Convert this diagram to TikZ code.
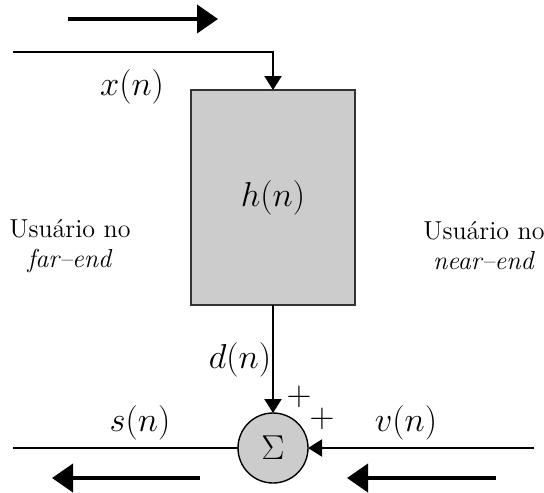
\documentclass[tikz,border=0pt]{standalone}
\usetikzlibrary{arrows.meta}
\begin{document}
\begin{tikzpicture}[x=0.5pt,y=-0.5pt,
  conn/.style={line width=1pt,-{Triangle[width=8.5pt,length=7pt]}},
  flow/.style={line width=2pt,-{Triangle[width=14pt,length=10.5pt]}},
  lbl/.style={font=\fontsize{16.5}{19}\selectfont, inner sep=0pt},
  txt/.style={font=\fontsize{13}{15}\selectfont, align=center, inner sep=0pt},
  plus/.style={font=\fontsize{17}{19}\selectfont, inner sep=0pt},
  blockbox/.style={draw=black!80, line width=0.8pt, fill=gray!40, minimum width=82pt, minimum height=107.5pt, inner sep=0pt, outer sep=0pt},
  sumnode/.style={circle, draw, line width=0.7pt, fill=gray!40, minimum size=35pt, inner sep=0pt, outer sep=0pt, font=\fontsize{17}{19}\selectfont}
  ]
\useasboundingbox (0,0) rectangle (544,492);
% block
\node[blockbox] (h) at (273,197.5) {};
\node[lbl] (hl) at (h.center) {$h(n)$};
% summer
\node[sumnode] (sum) at (273,448) {$\Sigma$};
% coordinates
\coordinate (xin) at (13,52);
\coordinate (vin) at (534,448);
\coordinate (sout) at (13,448);
\coordinate (f1a) at (68,19);
\coordinate (f1b) at (218,19);
\coordinate (f2a) at (200,478);
\coordinate (f2b) at (52,478);
\coordinate (f3a) at (496,478);
\coordinate (f3b) at (347,478);
% connectors
\draw[conn] (xin) -| (h.north);
\draw[conn] (h.south) -- (sum.north);
\draw[conn] (vin) -- (sum.east);
\draw[line width=0.7pt] (sum.west) -- (sout);
% flow arrows
\draw[flow] (f1a) -- (f1b);
\draw[flow] (f2a) -- (f2b);
\draw[flow] (f3a) -- (f3b);
% labels
\node[lbl] (xl) at (132,87) {$x(n)$};
\node[lbl] (dl) at (240,360) {$d(n)$};
\node[lbl] (sl) at (140,423) {$s(n)$};
\node[lbl] (vl) at (406,423) {$v(n)$};
\node[plus] (p1) at (299,397) {$+$};
\node[plus] (p2) at (322,419) {$+$};
\node[txt] (far) at (70,246) {Usuário no\\\textit{far--end}};
\node[txt] (near) at (484,246) {Usuário no\\\textit{near--end}};
\end{tikzpicture}
\end{document}
